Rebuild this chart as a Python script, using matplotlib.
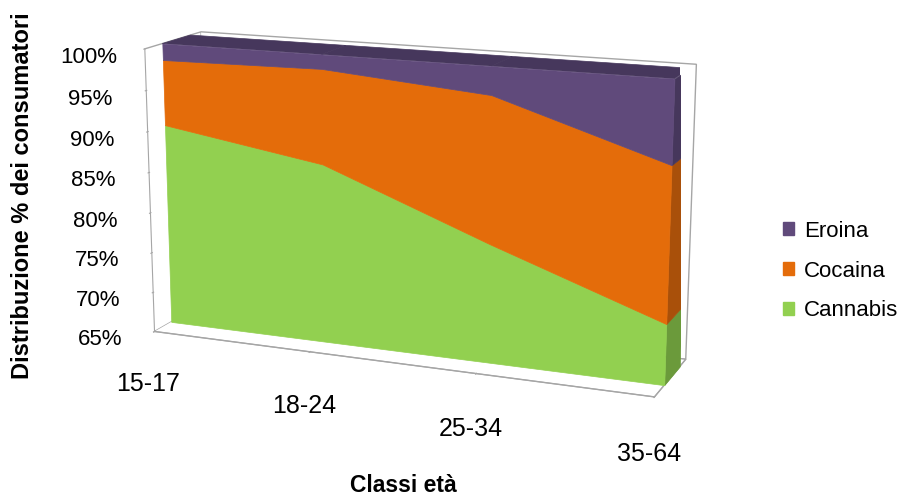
import numpy as np
import matplotlib.pyplot as plt
from matplotlib.patches import Patch

plt.rcParams['font.family'] = ['Liberation Sans', 'DejaVu Sans']

classi = ['15-17', '18-24', '25-34', '35-64']
cannabis = [90.0, 86.9, 79.3, 72.2]
cocaina = [8.0, 11.4, 17.4, 18.2]
eroina = [2.0, 1.7, 3.3, 9.6]

serie = [('Cannabis', cannabis), ('Cocaina', cocaina), ('Eroina', eroina)]
colori = {'Cannabis': '#92D050', 'Cocaina': '#E46C0A', 'Eroina': '#604A7B'}
colori_lato = {'Cannabis': '#6B9A3B', 'Cocaina': '#A9500A', 'Eroina': '#46375C'}
grigio = '#A6A6A6'

fig = plt.figure(figsize=(9.02, 4.96), dpi=100)
ax = fig.add_axes([0.041, 0.025, 0.82, 1.1], projection='3d', computed_zorder=False)
ax.set_proj_type('persp', focal_length=0.65)
ax.view_init(elev=14, azim=-68)
ax.set_box_aspect((5.4, 1.2, 3.0), zoom=1.11)

x = np.arange(len(classi))
y0, y1 = 0.3, 0.8
fronte = np.full(len(x), y0)
retro = np.full(len(x), y1)

cum = np.zeros(len(x))
for nome, valori in serie:
    sotto = np.maximum(cum, 65)
    sopra = cum + np.array(valori)
    # lato destro
    ax.fill_between([x[-1], x[-1]], [y0, y1], [sotto[-1]] * 2,
                    [x[-1], x[-1]], [y0, y1], [sopra[-1]] * 2,
                    facecolors=colori_lato[nome], edgecolor=colori_lato[nome],
                    linewidth=0.5, shade=False, zorder=1)
    if nome == 'Eroina':
        ax.fill_between(x, fronte, sopra, x, retro, sopra, mode='quad',
                        facecolors=colori_lato[nome], edgecolor=colori_lato[nome],
                        linewidth=0.5, shade=False, zorder=2)
    ax.fill_between(x, fronte, sotto, x, fronte, sopra,
                    facecolors=colori[nome], edgecolor=colori[nome],
                    linewidth=0.5, shade=False, zorder=3)
    cum = sopra

ax.set_xlim(0, 3)
ax.set_ylim(0, 1)
ax.set_zlim(65, 100)
ax.set_xticks(x, classi)
ax.set_yticks([])
ax.set_zticks(range(65, 101, 5), [f'{v}%' for v in range(65, 101, 5)])
ax.zaxis.set_ticks_position('lower')
ax.grid(False)
for asse in (ax.xaxis, ax.yaxis, ax.zaxis):
    asse.set_pane_color((1, 1, 1, 1))
    asse.pane.set_edgecolor(grigio)
    asse.line.set_color(grigio)
ax.tick_params(axis='x', labelsize=18, colors=grigio, labelcolor='black', pad=19)
ax.tick_params(axis='z', labelsize=16, colors=grigio, labelcolor='black', pad=14)

fig.text(0.025, 0.605, 'Distribuzione % dei consumatori', rotation=90,
         ha='center', va='center', fontsize=17, fontweight='bold')
fig.text(0.447, 0.022, 'Classi età', ha='center', va='center',
         fontsize=16.5, fontweight='bold')

maniglie = [Patch(color=colori[n]) for n in ['Eroina', 'Cocaina', 'Cannabis']]
fig.legend(maniglie, ['Eroina', 'Cocaina', 'Cannabis'], loc='center left',
           bbox_to_anchor=(0.868, 0.4536), frameon=False, fontsize=16,
           handlelength=0.5, handleheight=0.5, handletextpad=0.45,
           labelspacing=0.85, borderaxespad=0.0, borderpad=0.0)

fig.savefig('out.png', dpi=100)
